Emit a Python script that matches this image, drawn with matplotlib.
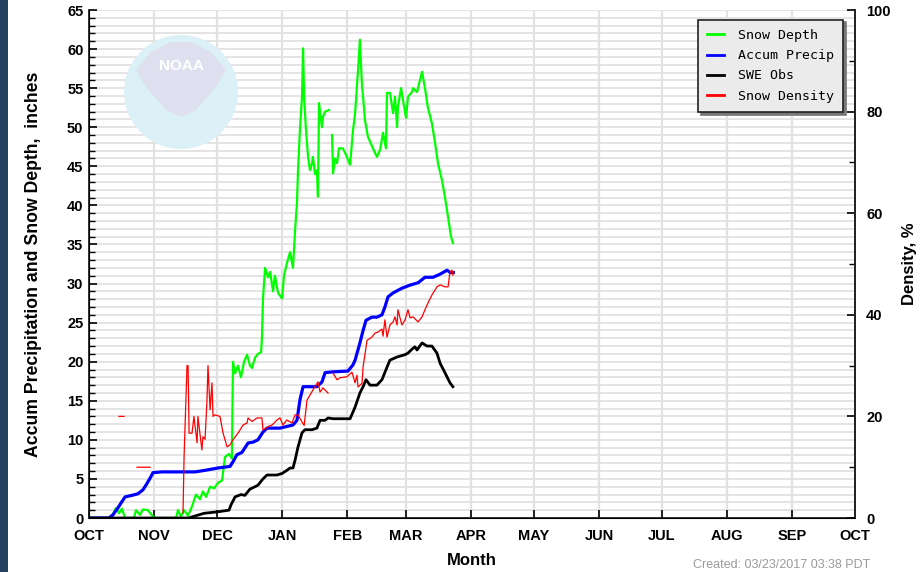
import numpy as np
import matplotlib
matplotlib.use("Agg")
import matplotlib.pyplot as plt
from matplotlib.patches import Ellipse, Rectangle, Polygon
from matplotlib.lines import Line2D

# x values: days since Oct 1, 2016 (water year)
month_days = [0, 31, 61, 92, 123, 151, 182, 212, 243, 273, 304, 335, 365]
month_labels = ['OCT', 'NOV', 'DEC', 'JAN', 'FEB', 'MAR', 'APR', 'MAY',
                'JUN', 'JUL', 'AUG', 'SEP', 'OCT']

depth_day = [0, 10, 11.4, 12.9, 14.3, 15.7, 17.2, 21.4, 22.4, 24.3, 25.7, 28.1, 29.5, 30.5,
             31.9, 41.5, 42.4, 43.8, 45.3, 47.2, 49.1, 51, 52.9, 54.3, 55.8, 57.7, 59.6,
             61.5, 63.4, 64.8, 66.7, 68.1, 68.6, 69.6, 71, 72.4, 73.9, 75.3, 76.7, 77.7,
             79.1, 80.5, 82, 82.4, 82.9, 83.9, 85.3, 86.3, 87.7, 88.6, 90.1, 92, 92.9,
             94.3, 95.8, 97.2, 98.2, 99.1, 99.6, 100.5, 101.5, 102, 102.5, 103.4, 104.4,
             105.3, 106.3, 106.7, 107.7, 108.6, 109.1, 109.6, 111, 111.5, 112.5, 114.4,
             115, 115.8, 116.3, 117.2, 118.2, 119.1, 121, 122.9, 124.4, 125.8, 126.8,
             128.2, 129.1, 130.1, 130.6, 131.5, 132.9, 135.3, 137.2, 138.7, 140.1, 141.5,
             142, 143.4, 144.9, 145.8, 146.8, 147.2, 148.7, 149.6, 151.1, 152, 153.9,
             154.4, 156.3, 158.7, 160.1, 161.5, 163.4, 164.9, 166.3, 168.2, 169.6, 171.1,
             172.5, 173.4]
depth_val = [0, 0, 0.5, 1.3, 0.6, 1.2, 0, 0, 1.0, 0.4, 1.1, 1.0, 0.5, 0.2,
             0, 0, 1.0, 0.2, 1.0, 0.3, 1.5, 3.0, 2.4, 3.4, 2.7, 4.0, 3.8,
             4.5, 4.8, 7.8, 8.2, 7.6, 20.0, 18.5, 19.5, 18.0, 20.0, 20.9, 19.5, 19.2,
             20.5, 21.0, 21.2, 23, 28, 32, 30.8, 31.5, 29, 31, 28.8, 28.1, 31,
             32.6, 34, 32, 36.8, 40.3, 44.5, 49.6, 53.9, 60.1, 53.9, 49.6, 46.2,
             44.5, 45.4, 46.2, 44, 44.5, 41.1, 53.1, 50, 51.3, 52, 52.2,
             np.nan, 49, 44.1, 46, 45.4, 47.3, 47.3, 46.2, 45.2, 49.6, 51.8,
             57.3, 61.2, 55.2, 53.9, 50.9, 48.8, 47.3, 46.2, 47.1, 49.3, 47.3,
             54.4, 54.4, 51.8, 53.9, 50, 52.6, 55, 53.5, 51.2, 53.9, 54.5,
             55, 54.5, 57.1, 55, 52.5, 50.5, 48, 45.4, 43.2, 41.1, 38.5,
             36, 35.2]

precip_day = [0, 9.5, 11.4, 13.8, 15.7, 17.2, 20.5, 23.3, 25.7, 27.6, 29.1, 30.5, 34.8,
              50.5, 55.3, 61.5, 67.2, 68.6, 70.5, 72.9, 75.8, 78.1, 80.5, 82.9, 84.8, 91,
              97.2, 99.1, 100.5, 102, 108.6, 111, 112.5, 116.3, 123.4, 125.8, 126.8,
              129.1, 130.6, 132, 134.8, 137.2, 139.6, 141, 142.5, 144.9, 149.1, 153,
              156.8, 160.1, 163.9, 167.3, 170.6, 172.2, 173.6]
precip_val = [0, 0, 0.4, 1.3, 2.1, 2.7, 2.9, 3.1, 3.6, 4.4, 5.1, 5.8, 5.9,
              5.9, 6.1, 6.4, 6.6, 7.2, 8.1, 8.4, 9.6, 9.7, 10.0, 11.0, 11.5, 11.5,
              11.9, 12.5, 15.1, 16.8, 16.8, 17.4, 18.6, 18.7, 18.8, 19.6, 20.2,
              22.4, 24.0, 25.3, 25.7, 25.7, 26.0, 27.0, 28.3, 28.8, 29.4, 29.8,
              30.1, 30.8, 30.8, 31.2, 31.7, 31.4, 31.4]

swe_day = [0, 47.7, 48.6, 54.8, 61.5, 66.7, 67.7, 69.6, 72.4, 74.3, 76.7, 79.1, 80.5,
           82.9, 84.8, 89.6, 92, 94.3, 95.8, 97.2, 98.2, 99.6, 101.5, 102.9, 106.3,
           108.6, 110.1, 112.5, 113.9, 116.3, 124.4, 126.8, 129.1, 130.6, 132, 133.9,
           137.2, 139.6, 142, 143.4, 146.8, 150.6, 152, 153.9, 155.3, 156.3, 158.7,
           161.1, 163.4, 165.8, 167.3, 169.6, 172, 173.4]
swe_val = [0, 0, 0.1, 0.6, 0.8, 1.0, 1.7, 2.7, 3.0, 2.9, 3.7, 4.0, 4.2,
           5.0, 5.5, 5.5, 5.7, 6.1, 6.4, 6.4, 7.4, 9.1, 10.9, 11.3, 11.3,
           11.5, 12.5, 12.5, 12.8, 12.7, 12.7, 14.2, 16.0, 16.8, 17.7, 17.0,
           17.0, 17.7, 19.3, 20.2, 20.6, 20.9, 21.1, 21.6, 21.9, 21.5, 22.4,
           22.0, 22.0, 21.1, 19.8, 18.6, 17.3, 16.8]

# snow density, percent (right axis)
dens_day = [14.3, 16.7, np.nan, 22.9, 29.1, np.nan,
            44.8, 45.3, 46.7, 47.2, 47.7, 49.1, 50, 51.5, 51.9, 52.9, 53.8, 54.3, 55.3,
            56.2, 56.7, 57.7, 58.6, 59.1, 60, 62.4, 63.9, 65.8, 67.2, 68.6, 71, 73.4,
            75.3, 75.8, 77.7, 80.1, 82.4, 82.9, 85.3, 87.2, 89.6, 91, 92.4, 94.3, 96.7,
            98.2, 99.6, 101.5, 102.5, 103.9, 106.7, 109.1, 110.1, 111.5, 113.9, 115,
            116.3, 118.2, 119.6, 122.9, 125.3, 126.8, 127.7, 128.2, 130.1, 130.6, 132.5,
            134.8, 136.3, 137.7, 139.6, 140.1, 141, 142, 143.4, 144.9, 145.8, 146.8,
            147.2, 148.2, 149.1, 150.6, 152, 153, 154.4, 156.8, 158.7, 160.1, 161.5,
            163.4, 165.8, 167.3, 169.6, 171.1, 172, 173, 173.4]
dens_val = [20, 20, np.nan, 10, 10, np.nan,
            1, 12, 30, 30, 16.7, 16.7, 20, 14.8, 20, 16.5, 13.4, 16, 15.5,
            23, 30, 21.3, 26.6, 20, 20.3, 20, 16.7, 14, 14.4, 15.4, 16.7, 18.3,
            18.7, 19.7, 19, 19.7, 19.7, 17.3, 18, 18.3, 19.3, 19.7, 18.3, 19.3, 18.7,
            20.3, 20.3, 18.9, 18.2, 23.2, 25.2, 26.8, 24.8, 25.6, 24.6, np.nan,
            28.5, 27.2, 27.6, 27.8, 28.7, 26.6, 28.1, 25.8, 26.5, 29.7, 35,
            35.6, 36.4, 36.6, 37.2, 35.8, 39, 35.6, 38, 38.6, 39.6, 38,
            41, 39.4, 38, 39, 41, 39.4, 39.6, 38.6, 39.6, 41, 42.3,
            43.9, 45.5, 45.9, 45.5, 45.5, 48.4, 48.8, 47.8]

series_names = ['Snow Depth', 'Accum Precip', 'SWE Obs', 'Snow Density']
series_colors = ['#00ff00', '#0000ff', '#000000', '#ff0000']

plt.rcParams['font.family'] = ['Liberation Sans', 'DejaVu Sans']

fig = plt.figure(figsize=(9.23, 5.72), dpi=100)
fig.patch.set_facecolor('white')
# dark strip on the left edge
fig.add_artist(Rectangle((0, 0), 8 / 923, 1, transform=fig.transFigure,
                         facecolor='#24405c', edgecolor='none'))

ax = fig.add_axes([89 / 923, 54 / 572, 766 / 923, 508 / 572])
ax.set_xlim(0, 365)
ax.set_ylim(0, 65)

# grid
for yv in range(1, 66):
    ax.axhline(yv, color='#e2e2e2', lw=1.3, zorder=0)
for xv in month_days[1:-1]:
    ax.axvline(xv, color='#e2e2e2', lw=1.6, zorder=0)

# NOAA watermark (pixel-round circle in axes coordinates)
W, H = 766.0, 508.0
cx, cy, r = 92 / W, (518 - 92) / H, 57.0
ax.add_patch(Ellipse((cx, cy), 2 * r / W, 2 * r / H, transform=ax.transAxes,
                     facecolor='#dcf0f7', edgecolor='none', zorder=0.5))
bird = [(-45, 22), (-30, 40), (-10, 50), (10, 50), (30, 40), (45, 22),
        (35, 5), (15, -18), (0, -25), (-15, -18), (-35, 5)]
ax.add_patch(Polygon([(cx + dx / W, cy + dy / H) for dx, dy in bird],
                     closed=True, transform=ax.transAxes,
                     facecolor='#dfe0ef', edgecolor='none', zorder=0.6))
ax.text(cx, cy + 26 / H, 'NOAA', transform=ax.transAxes, ha='center', va='center',
        color='white', fontsize=11, fontweight='bold', zorder=0.7)

l1, = ax.plot(depth_day, depth_val, color=series_colors[0], lw=1.6, zorder=3)
l2, = ax.plot(precip_day, precip_val, color=series_colors[1], lw=2.3, zorder=4)
l3, = ax.plot(swe_day, swe_val, color=series_colors[2], lw=2.0, zorder=4)

ax.set_xticks(month_days)
ax.set_xticklabels(month_labels)
ax.set_yticks(range(0, 66, 5))
ax.set_yticks(range(0, 66, 1), minor=True)
ax.tick_params(axis='both', which='major', direction='in', length=6, width=1.2,
               labelsize=10.5, pad=4)
ax.tick_params(axis='y', which='minor', direction='in', length=4, width=1.0)
ax.tick_params(axis='x', which='major', pad=8)
for lab in ax.get_xticklabels() + ax.get_yticklabels():
    lab.set_fontweight('bold')
for s in ['left', 'bottom', 'right']:
    ax.spines[s].set_color('#222222')
    ax.spines[s].set_linewidth(1.3)
ax.spines['top'].set_visible(False)

ax.set_xlabel('Month', fontsize=12, fontweight='bold', labelpad=7)
ax.set_ylabel('Accum Precipitation and Snow Depth,  inches', fontsize=12.7,
              fontweight='bold', labelpad=18)

ax2 = ax.twinx()
ax2.set_ylim(0, 100)
l4, = ax2.plot(dens_day, dens_val, color=series_colors[3], lw=0.9, zorder=3)
ax2.set_yticks(range(0, 101, 20))
ax2.set_yticks(range(0, 101, 10), minor=True)
ax2.tick_params(axis='y', which='major', direction='in', length=6, width=1.2,
                labelsize=10.5, pad=8)
ax2.tick_params(axis='y', which='minor', direction='in', length=4, width=1.0)
for lab in ax2.get_yticklabels():
    lab.set_fontweight('bold')
ax2.spines['top'].set_visible(False)
ax2.spines['right'].set_color('#222222')
ax2.spines['right'].set_linewidth(1.3)
ax2.set_ylabel('Density, %', fontsize=12, fontweight='bold', labelpad=8)

handles = [Line2D([], [], color=c, lw=2) for c in series_colors]
leg = ax2.legend(handles, series_names, loc='upper right',
                 bbox_to_anchor=(0.984, 0.981), borderaxespad=0,
                 prop={'family': 'DejaVu Sans Mono', 'size': 9.5},
                 frameon=True, fancybox=False, shadow={'color': '#777777', 'alpha': 1},
                 handlelength=1.3, handletextpad=1.0, labelspacing=0.55,
                 borderpad=0.7)
leg.get_frame().set_facecolor('#ebebeb')
leg.get_frame().set_edgecolor('#222222')
leg.get_frame().set_linewidth(1.2)
leg.get_frame().set_alpha(1)

fig.text(693 / 923, 1 / 572, 'Created: 03/23/2017 03:38 PDT', fontsize=9,
         color='#9a9a9a', ha='left', va='bottom')

fig.savefig('out.png', dpi=100)
